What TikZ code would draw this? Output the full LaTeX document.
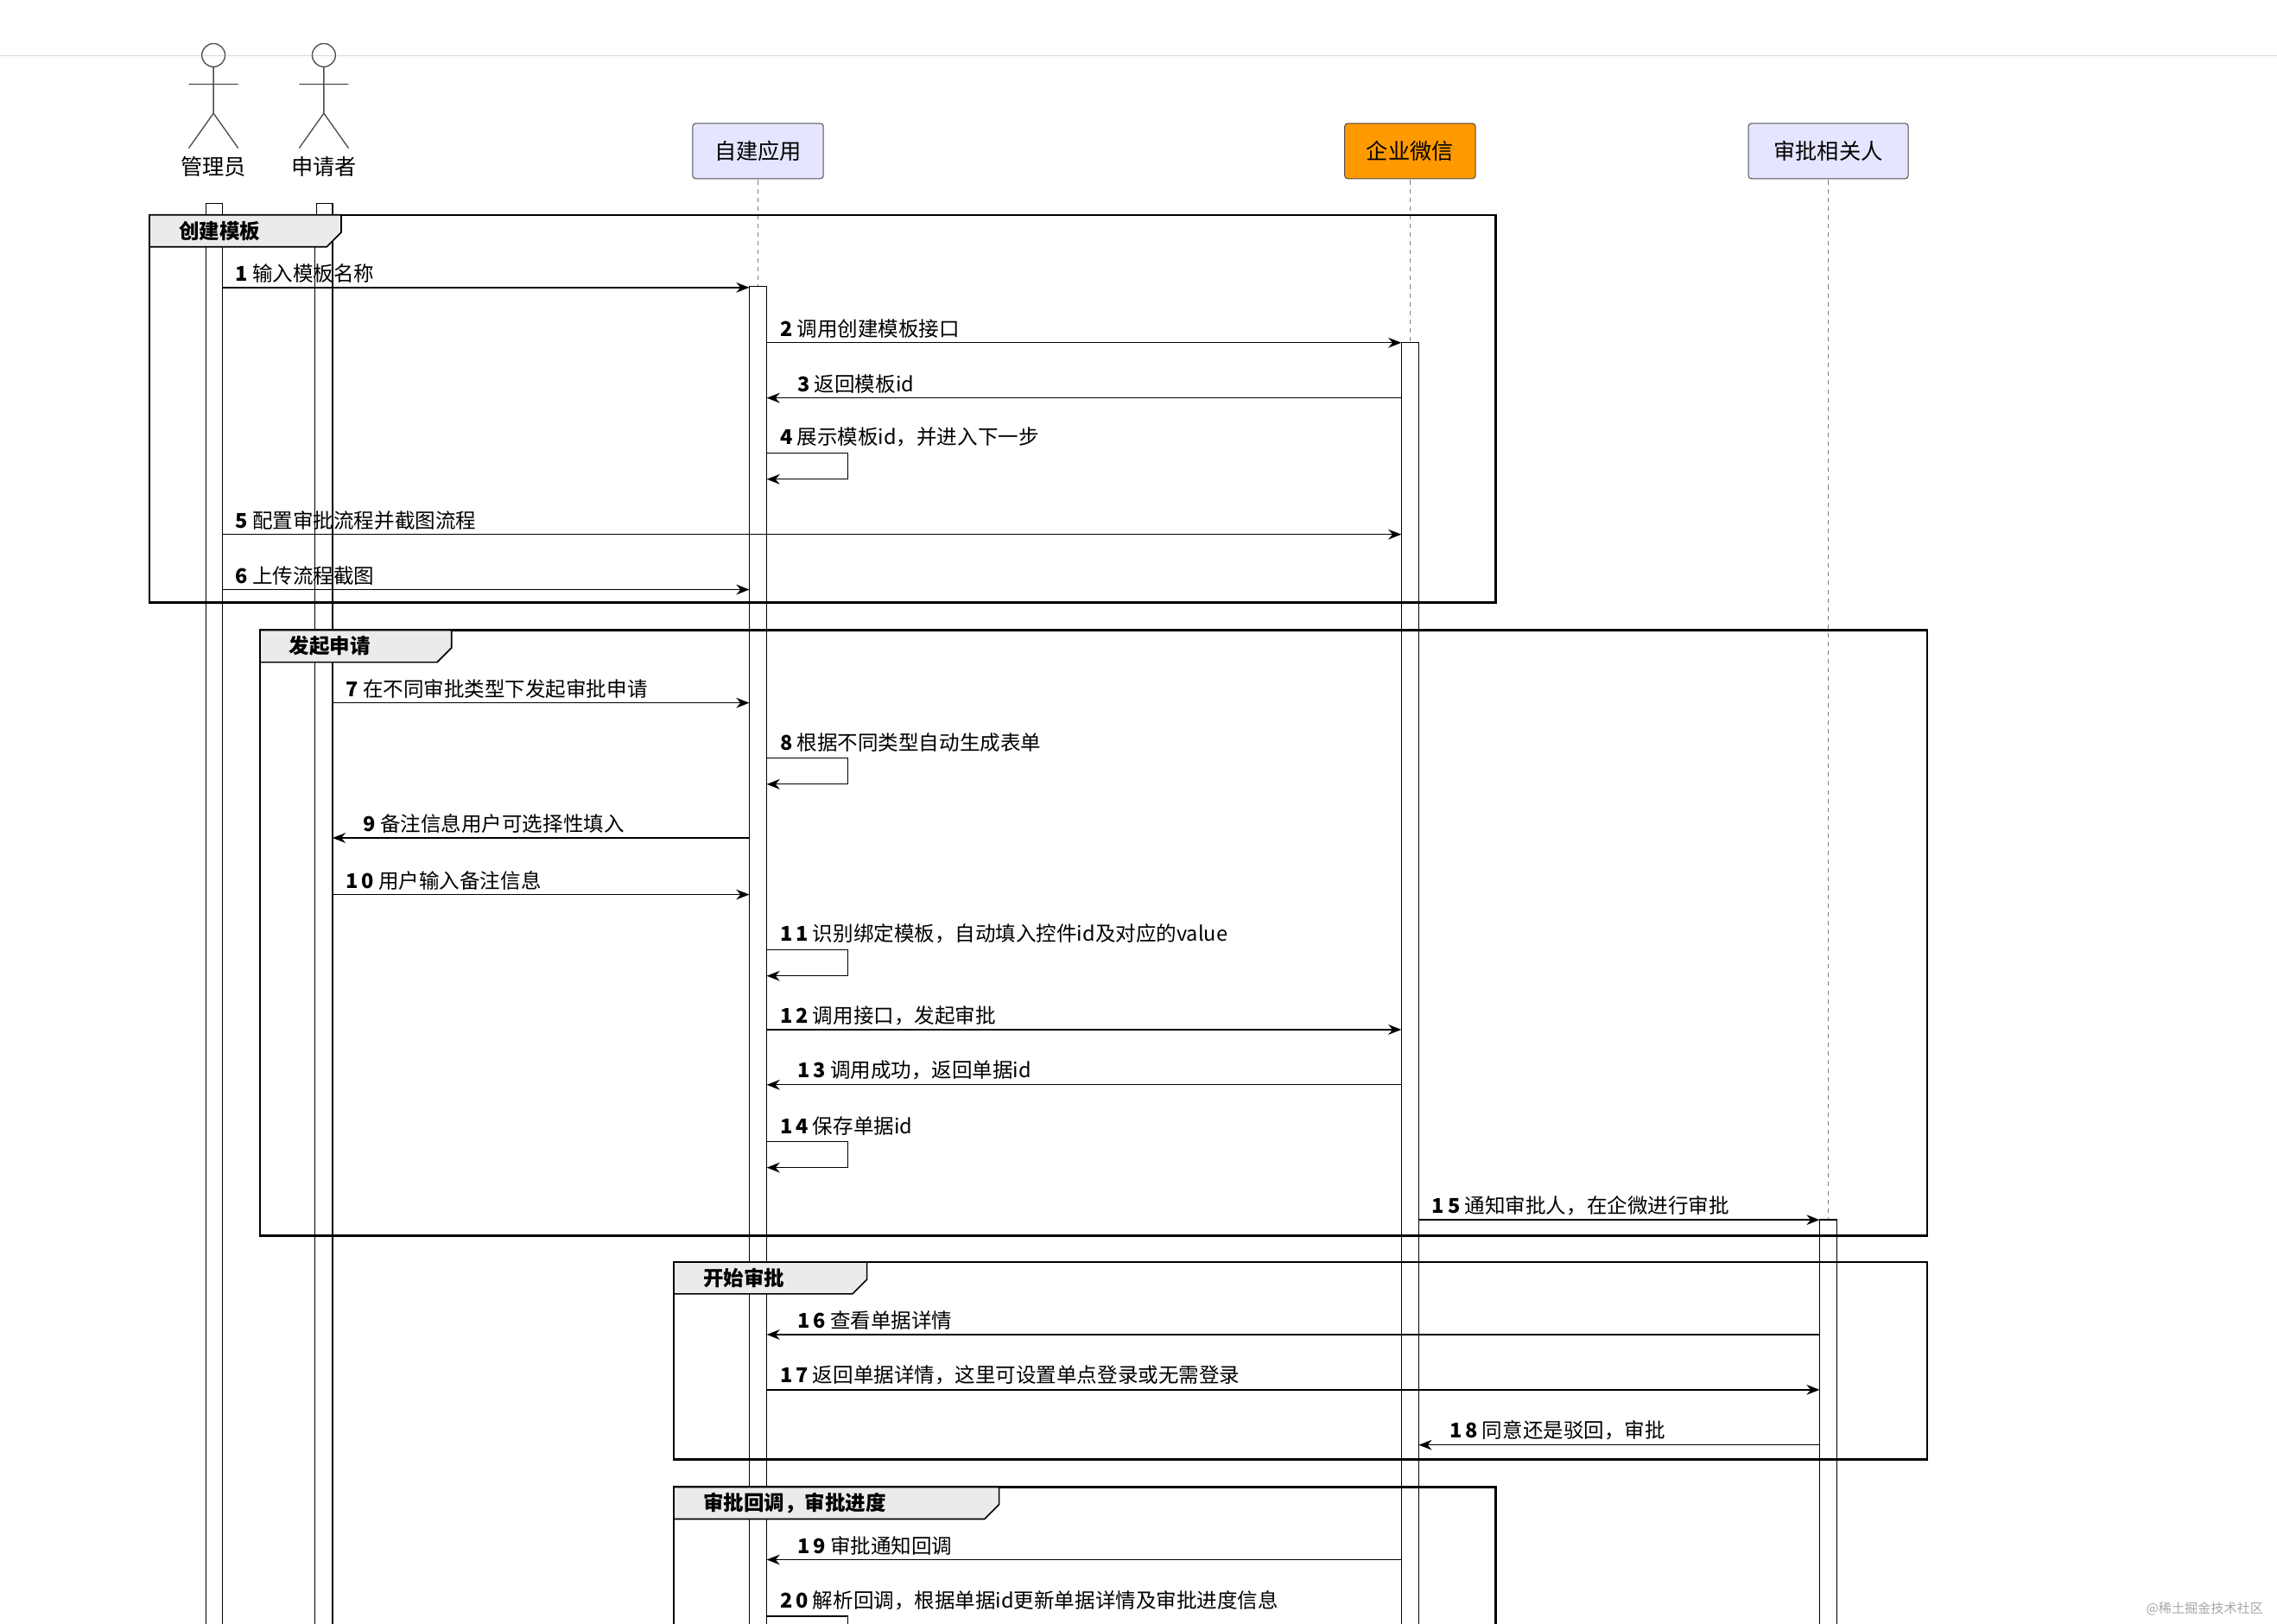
\documentclass[tikz,border=0pt]{standalone}
\usepackage{fontspec}
\setmainfont{Noto Sans CJK SC}
\usetikzlibrary{arrows.meta}
\begin{document}
\begin{tikzpicture}[x=1pt,y=-1pt,
  msg/.style={-{Stealth[length=9pt,width=7pt]},line width=0.8pt},
  lbl/.style={anchor=south west,inner sep=1pt,font=\fontsize{14}{16}\selectfont},
  bar/.style={draw,fill=white,line width=0.8pt},
  part/.style={draw=black!70,fill=#1,rounded corners=2pt,minimum width=90pt,minimum height=38pt,font=\fontsize{15}{18}\selectfont,line width=0.6pt},
  grp/.style={draw,line width=1.4pt},
  tab/.style={draw,fill=black!8,line width=1pt},
  glbl/.style={font=\bfseries\fontsize{14}{16}\selectfont,anchor=west,inner sep=0pt},
  life/.style={dashed,black!50,line width=0.6pt}]
\useasboundingbox (0,0) rectangle (1568,1118);
\clip (0,0) rectangle (1568,1118);
\draw[black!15] (0,38) -- (1568,38);
% lifelines
\foreach \x in {522,971,1259} \draw[life] (\x,124) -- (\x,1118);
% participants
\node[part=blue!10!white] (app) at (522,104) {自建应用};
\node[part={orange!80!yellow}] (wx) at (971,104) {企业微信};
\node[part=blue!10!white,minimum width=110pt] (rel) at (1259,104) {审批相关人};
% actors
\foreach \x/\n/\t in {147/adm/管理员,223/req/申请者}{
  \draw[black!70,line width=0.8pt] (\x,38) circle (8);
  \draw[black!70,line width=0.8pt] (\x,46) -- (\x,78) (\x-17,58) -- (\x+17,58) (\x,78) -- (\x-17,102) (\x,78) -- (\x+17,102);
  \node[font=\fontsize{15}{18}\selectfont] (\n) at (\x,115) {\t};
  \draw[bar] (\x-5,140) rectangle (\x+6,148);
}
% activation bars
\draw[bar] (142,148) rectangle (153,1125);
\draw[bar] (217,148) rectangle (229,1125);
\draw[bar] (516,197) rectangle (528,1125);
\draw[bar] (965,236) rectangle (977,1125);
\draw[bar] (1253,840) rectangle (1265,1125);
% groups
\newcommand{\grpbox}[6]{%
  \draw[grp] (#1,#2) rectangle (#3,#4);
  \draw[tab] (#1,#2) -- (#5,#2) -- (#5,#2+12) -- (#5-10,#2+22) -- (#1,#2+22) -- cycle;
  \node[glbl] at (#1+20,#2+11) {#6};}
\grpbox{103}{148}{1030}{415}{235}{创建模板}
\grpbox{179}{434}{1327}{851}{311}{发起申请}
\grpbox{464}{869}{1327}{1005}{597}{开始审批}
\grpbox{464}{1024}{1030}{1130}{688}{审批回调，审批进度}
% messages
\newcommand{\mr}[4]{\draw[msg] (#1,#3) -- (#2,#3); \node[lbl] at (#1+8,#3-2) {#4};}
\newcommand{\ml}[4]{\draw[msg] (#1,#3) -- (#2,#3); \node[lbl] at (#2+20,#3-2) {#4};}
\newcommand{\ms}[2]{\draw[msg] (528,#1) -- (584,#1) -- (584,#1+18) -- (528,#1+18); \node[lbl] at (536,#1-3) {#2};}
\mr{153}{516}{198}{\textbf{1} 输入模板名称}
\mr{528}{965}{236}{\textbf{2} 调用创建模板接口}
\ml{965}{528}{274}{\textbf{3} 返回模板id}
\ms{312}{\textbf{4} 展示模板id，并进入下一步}
\mr{153}{965}{368}{\textbf{5} 配置审批流程并截图流程}
\mr{153}{516}{406}{\textbf{6} 上传流程截图}
\mr{229}{516}{484}{\textbf{7} 在不同审批类型下发起审批申请}
\ms{522}{\textbf{8} 根据不同类型自动生成表单}
\ml{516}{229}{577}{\textbf{9} 备注信息用户可选择性填入}
\mr{229}{516}{616}{\textbf{1\,0} 用户输入备注信息}
\ms{654}{\textbf{1\,1} 识别绑定模板，自动填入控件id及对应的value}
\mr{528}{965}{709}{\textbf{1\,2} 调用接口，发起审批}
\ml{965}{528}{747}{\textbf{1\,3} 调用成功，返回单据id}
\ms{786}{\textbf{1\,4} 保存单据id}
\mr{977}{1253}{840}{\textbf{1\,5} 通知审批人，在企微进行审批}
\ml{1253}{528}{919}{\textbf{1\,6} 查看单据详情}
\mr{528}{1253}{957}{\textbf{1\,7} 返回单据详情，这里可设置单点登录或无需登录}
\ml{1253}{977}{995}{\textbf{1\,8} 同意还是驳回，审批}
\ml{965}{528}{1074}{\textbf{1\,9} 审批通知回调}
\ms{1113}{\textbf{2\,0} 解析回调，根据单据id更新单据详情及审批进度信息}
\node[font=\fontsize{9}{10}\selectfont,text=black!35,anchor=east] (wm) at (1562,1108) {@稀土掘金技术社区};
\end{tikzpicture}
\end{document}
